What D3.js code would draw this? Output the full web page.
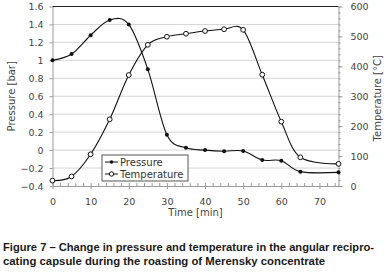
<!DOCTYPE html>
<html>
<head>
<meta charset="utf-8">
<script src="https://cdn.jsdelivr.net/npm/d3@7"></script>
<style>
  body { margin: 0; background: #fff; }
  svg { display: block; }
</style>
</head>
<body>
<div id="chart"></div>
<script>
// readings taken off the figure
const times = [0, 5, 10, 15, 20, 25, 30, 35, 40, 45, 50, 55, 60, 65, 75];
const pressure = [1.0, 1.07, 1.28, 1.45, 1.40, 0.90, 0.17, 0.025, 0.0, -0.012, -0.01, -0.11, -0.118, -0.24, -0.248];
const temperature = [18, 32, 106, 223, 371, 472, 499, 509, 518, 524, 522, 372, 215, 96, 74];
const xTicks = [0, 10, 20, 30, 40, 50, 60, 70];
const leftTicks = [-0.4, -0.2, 0, 0.2, 0.4, 0.6, 0.8, 1, 1.2, 1.4, 1.6];
const rightTicks = [0, 100, 200, 300, 400, 500, 600];

const W = 385, H = 279;
const plotL = 52.5, plotR = 338.5, plotT = 6.5, plotB = 186;
const font = "DejaVu Sans, Verdana, sans-serif";

const svg = d3.select("#chart").append("svg")
    .attr("width", W)
    .attr("height", H);

const x = d3.scaleLinear().domain([0, 75]).range([plotL, plotR]);
const yL = d3.scaleLinear().domain([-0.4, 1.6]).range([plotB, plotT]);
const yR = d3.scaleLinear().domain([0, 600]).range([plotB, plotT]);

// gridlines
svg.append("g")
    .selectAll("line")
    .data(leftTicks.slice(1, -1))
    .join("line")
    .attr("x1", plotL).attr("x2", plotR)
    .attr("y1", d => yL(d)).attr("y2", d => yL(d))
    .attr("stroke", "#d4d4d4")
    .attr("stroke-width", 1);

// top border
svg.append("line")
    .attr("x1", plotL).attr("x2", plotR)
    .attr("y1", plotT).attr("y2", plotT)
    .attr("stroke", "#222").attr("stroke-width", 1);

// axes
const styleAxis = g => {
    g.select(".domain").attr("stroke", "#999");
    g.selectAll(".tick line").attr("stroke", "#999");
    g.selectAll("text").attr("fill", "#444").style("font-family", font).style("font-size", "9.5px");
};

// minor ticks
svg.append("g")
    .attr("transform", `translate(0, ${plotB})`)
    .call(d3.axisBottom(x).tickValues(d3.range(0, 76, 2)).tickSize(-3).tickFormat(""))
    .call(g => g.select(".domain").remove())
    .call(g => g.selectAll(".tick line").attr("stroke", "#999"));
svg.append("g")
    .attr("transform", `translate(${plotR}, 0)`)
    .call(d3.axisRight(yR).tickValues(d3.range(0, 601, 20)).tickSize(2).tickFormat(""))
    .call(g => g.select(".domain").remove())
    .call(g => g.selectAll(".tick line").attr("stroke", "#999"));

svg.append("g")
    .attr("transform", `translate(0, ${plotB})`)
    .call(d3.axisBottom(x).tickValues(xTicks).tickSize(3).tickSizeOuter(0).tickPadding(9))
    .call(styleAxis);

svg.append("g")
    .attr("transform", `translate(${plotL}, 0)`)
    .call(d3.axisLeft(yL).tickValues(leftTicks).tickSize(3).tickSizeOuter(0).tickPadding(6)
        .tickFormat(d => d3.format("~g")(+d.toFixed(1))))
    .call(styleAxis);

svg.append("g")
    .attr("transform", `translate(${plotR}, 0)`)
    .call(d3.axisRight(yR).tickValues(rightTicks).tickSize(4).tickSizeOuter(0).tickPadding(8))
    .call(styleAxis);

// axis titles
svg.append("text")
    .attr("transform", `translate(15, ${(plotT + plotB) / 2}) rotate(-90)`)
    .attr("text-anchor", "middle")
    .attr("fill", "#444")
    .style("font-family", font).style("font-size", "10px")
    .text("Pressure [bar]");

svg.append("text")
    .attr("transform", `translate(381, ${(plotT + plotB) / 2 + 2}) rotate(-90)`)
    .attr("text-anchor", "middle")
    .attr("fill", "#444")
    .style("font-family", font).style("font-size", "10px")
    .text("Temperature [°C]");

svg.append("text")
    .attr("x", (plotL + plotR) / 2)
    .attr("y", 216)
    .attr("text-anchor", "middle")
    .attr("fill", "#444")
    .style("font-family", font).style("font-size", "10px")
    .text("Time [min]");

// series
const pData = times.map((t, i) => ({ t: t, v: pressure[i] }));
const tData = times.map((t, i) => ({ t: t, v: temperature[i] }));

const pLine = d3.line().x(d => x(d.t)).y(d => yL(d.v)).curve(d3.curveCardinal.tension(0));
const tLine = d3.line().x(d => x(d.t)).y(d => yR(d.v)).curve(d3.curveCardinal.tension(0));

svg.append("path").datum(pData)
    .attr("d", pLine).attr("fill", "none").attr("stroke", "#111").attr("stroke-width", 1.1);
svg.append("path").datum(tData)
    .attr("d", tLine).attr("fill", "none").attr("stroke", "#111").attr("stroke-width", 1.1);

svg.append("g").selectAll("circle")
    .data(pData)
    .join("circle")
    .attr("cx", d => x(d.t)).attr("cy", d => yL(d.v))
    .attr("r", 2)
    .attr("fill", "#111");

svg.append("g").selectAll("circle")
    .data(tData)
    .join("circle")
    .attr("cx", d => x(d.t)).attr("cy", d => yR(d.v))
    .attr("r", 2.4)
    .attr("fill", "#fff")
    .attr("stroke", "#111").attr("stroke-width", 1);

// legend
const legend = svg.append("g").attr("transform", "translate(102, 155)");
legend.append("rect")
    .attr("width", 86).attr("height", 26)
    .attr("fill", "#fff").attr("stroke", "#555").attr("stroke-width", 1);
const items = [
    { name: "Pressure", filled: true, y: 7 },
    { name: "Temperature", filled: false, y: 19 }
];
items.forEach(it => {
    legend.append("line")
        .attr("x1", 3).attr("x2", 16).attr("y1", it.y).attr("y2", it.y)
        .attr("stroke", "#111").attr("stroke-width", 1);
    legend.append("circle")
        .attr("cx", 9.5).attr("cy", it.y)
        .attr("r", it.filled ? 1.8 : 2.2)
        .attr("fill", it.filled ? "#111" : "#fff")
        .attr("stroke", "#111").attr("stroke-width", it.filled ? 0 : 1);
    legend.append("text")
        .attr("x", 18).attr("y", it.y + 3.5)
        .attr("fill", "#333")
        .style("font-family", font).style("font-size", "10px")
        .text(it.name);
});

// caption
const caption = svg.append("g")
    .attr("fill", "#1a1a1a")
    .style("font-family", "Liberation Sans, Arial, sans-serif")
    .style("font-size", "11.5px")
    .style("font-weight", "bold");
caption.append("text").attr("x", 3).attr("y", 251)
    .attr("textLength", 371).attr("lengthAdjust", "spacingAndGlyphs")
    .text("Figure 7 – Change in pressure and temperature in the angular recipro-");
caption.append("text").attr("x", 3).attr("y", 265)
    .attr("textLength", 322).attr("lengthAdjust", "spacingAndGlyphs")
    .text("cating capsule during the roasting of Merensky concentrate");
</script>
</body>
</html>
